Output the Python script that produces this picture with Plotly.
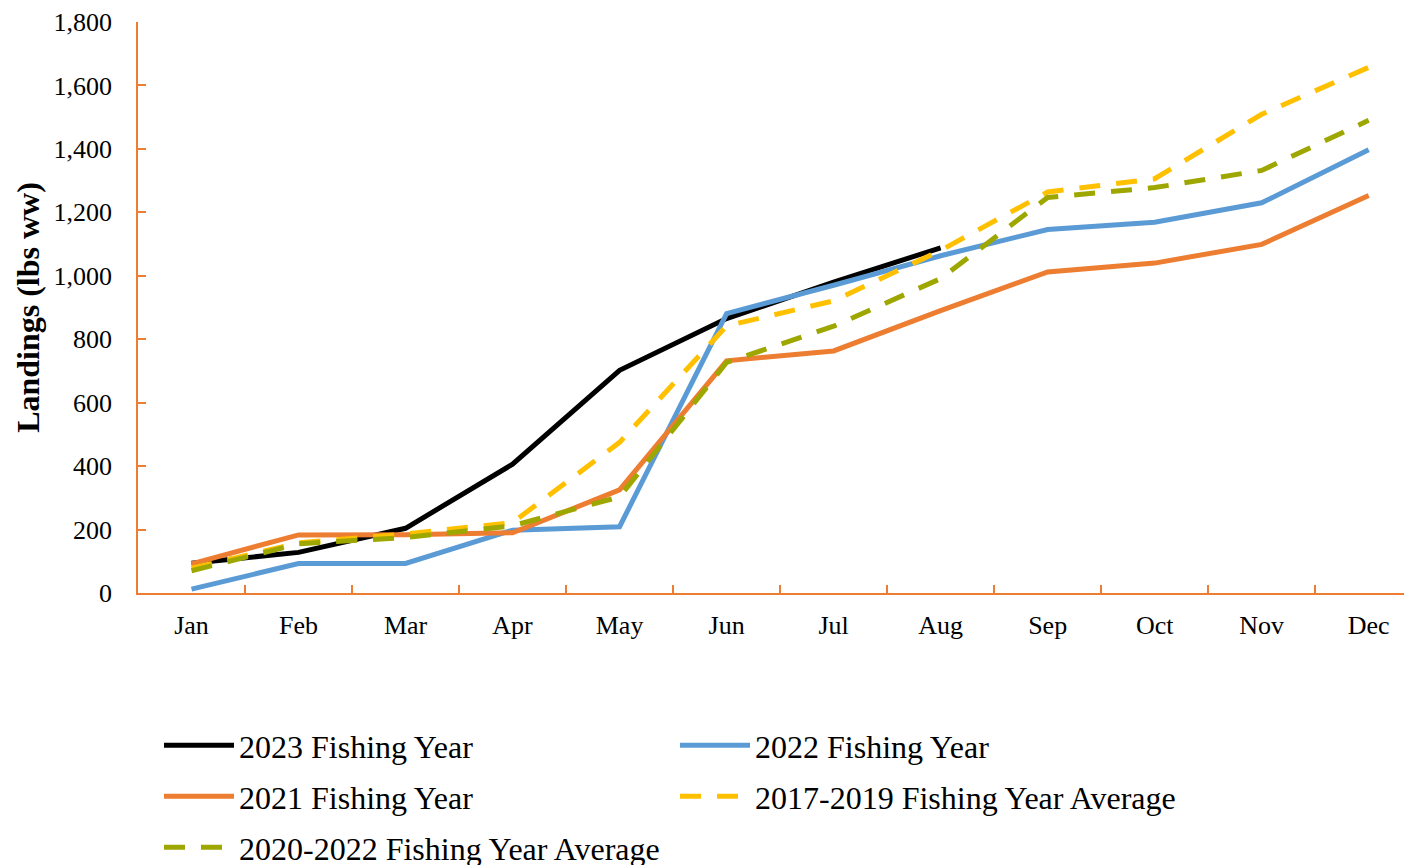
import plotly.graph_objects as go

months = ["Jan", "Feb", "Mar", "Apr", "May", "Jun", "Jul", "Aug", "Sep", "Oct", "Nov", "Dec"]

fy2023 = [94, 128, 204, 406, 702, 865, 980, 1088]
fy2022 = [12, 93, 93, 198, 209, 881, 970, 1063, 1146, 1169, 1230, 1397]
fy2021 = [92, 183, 184, 190, 325, 732, 763, 890, 1012, 1040, 1099, 1253]
avg_2017_2019 = [78, 158, 186, 222, 475, 842, 921, 1080, 1264, 1306, 1509, 1657]
avg_2020_2022 = [70, 155, 175, 212, 303, 727, 841, 991, 1247, 1278, 1332, 1490]

y_ticks = [0, 200, 400, 600, 800, 1000, 1200, 1400, 1600, 1800]

# name, values, colour, dash, legend row
series = [
    ("2023 Fishing Year", fy2023, "#000000", "solid", "legend"),
    ("2022 Fishing Year", fy2022, "#5B9BD5", "solid", "legend"),
    ("2021 Fishing Year", fy2021, "#ED7D31", "solid", "legend2"),
    ("2017-2019 Fishing Year Average", avg_2017_2019, "#FFC000", "21px,16px", "legend2"),
    ("2020-2022 Fishing Year Average", avg_2020_2022, "#9EA700", "21px,16px", "legend3"),
]

fig = go.Figure()
for name, vals, color, dash, leg in series:
    fig.add_trace(go.Scatter(
        x=months[:len(vals)], y=vals, name=name, mode="lines",
        line=dict(color=color, width=5, dash=dash),
        legend=leg,
    ))

axis_color = "#ED7D31"
font_family = "Liberation Serif, Times New Roman, serif"


def legend_row(center_y):
    return dict(
        orientation="h",
        xref="container", yref="container",
        x=159 / 1404, y=1 - (center_y - 30) / 865,
        xanchor="left", yanchor="top",
        entrywidth=431, entrywidthmode="pixels",
        itemwidth=70,
        font=dict(size=32, family=font_family, color="black"),
        bgcolor="rgba(0,0,0,0)",
    )


fig.update_layout(
    width=1404, height=865,
    margin=dict(l=138, r=0, t=22, b=272),
    plot_bgcolor="white", paper_bgcolor="white",
    font=dict(family=font_family, color="black", size=26),
    showlegend=True,
    legend=legend_row(748),
    legend2=legend_row(799),
    legend3=legend_row(850),
    xaxis=dict(
        type="category",
        categoryorder="array", categoryarray=months,
        range=[-0.5, 11.33],
        automargin=False,
        showline=True, linecolor=axis_color, linewidth=1.5,
        ticks="inside", tickcolor=axis_color, ticklen=8, tickwidth=1.5,
        tickson="boundaries",
        ticklabelstandoff=8,
        showgrid=False, zeroline=False,
        tickfont=dict(size=26, family=font_family, color="black"),
    ),
    yaxis=dict(
        range=[0, 1800],
        tickvals=y_ticks,
        tickformat=",",
        automargin=False,
        showline=True, linecolor=axis_color, linewidth=1.5,
        ticks="inside", tickcolor=axis_color, ticklen=8, tickwidth=1.5,
        ticklabelstandoff=19,
        showgrid=False, zeroline=False,
        tickfont=dict(size=26, family=font_family, color="black"),
        title=dict(text="<b>Landings (lbs ww)</b>", font=dict(size=32, family=font_family, color="black"), standoff=4),
    ),
)

fig.write_html(
    "out.html",
    config={"displayModeBar": False},
    post_script="document.body.style.margin='0';document.body.style.overflow='hidden';",
)
